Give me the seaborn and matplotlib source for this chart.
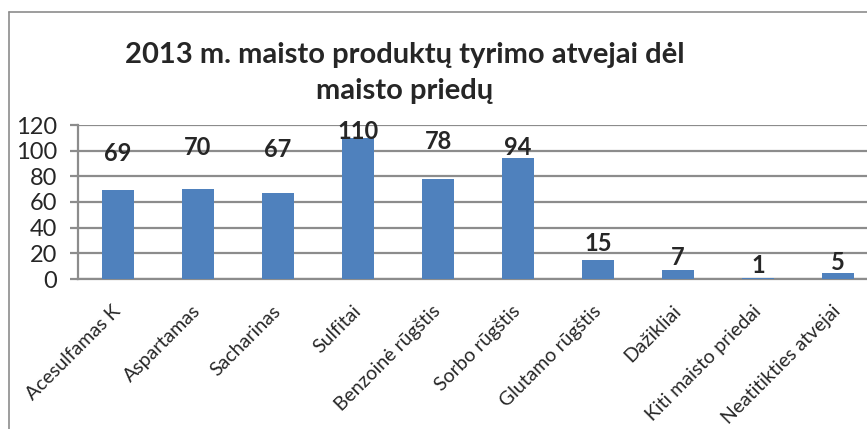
import numpy as np
import pandas as pd
import matplotlib
matplotlib.use('Agg')
import matplotlib.pyplot as plt
from matplotlib.lines import Line2D
import seaborn as sns

categories = ['Acesulfamas K', 'Aspartamas', 'Sacharinas', 'Sulfitai',
              'Benzoinė rūgštis', 'Sorbo rūgštis', 'Glutamo rūgštis',
              'Dažikliai', 'Kiti maisto priedai', 'Neatitikties atvejai']
cases = [69, 70, 67, 110, 78, 94, 15, 7, 1, 5]
y_ticks = [0, 20, 40, 60, 80, 100, 120]
title = '2013 m. maisto produktų tyrimo atvejai dėl\nmaisto priedų'

# label lift above the bar top, in pixels (Excel placed them unevenly)
label_lift = [37, 42, 44, 6, 37, 11, 16, 13, 12, 10]

sns.set_style('white')
plt.rcParams['font.family'] = ['Lato', 'DejaVu Sans']

df = pd.DataFrame({'priedas': categories, 'atvejai': cases})

W, H = 867, 429
fig = plt.figure(figsize=(W / 100, H / 100), dpi=100)
ax = fig.add_axes([78 / W, 1 - 279 / H, 800 / W, 154 / H])

sns.barplot(data=df, x='priedas', y='atvejai', color='#4F81BD', width=0.4,
            saturation=1, linewidth=0, ax=ax, zorder=3)

ax.set_xlim(-0.5, 9.5)
ax.set_ylim(0, 120)
ax.set_yticks(y_ticks)
ax.yaxis.grid(True, color='#8C8C8C', linewidth=1.6, zorder=0)
ax.set_axisbelow(True)
for s in ['top', 'right']:
    ax.spines[s].set_visible(False)
for s in ['left', 'bottom']:
    ax.spines[s].set_color('#8C8C8C')
    ax.spines[s].set_linewidth(1.6)

ax.tick_params(axis='y', length=6, width=1.6, color='#8C8C8C', pad=9,
               labelsize=17, left=True)
ax.tick_params(axis='x', length=0, pad=21, labelsize=14)
plt.setp(ax.get_xticklabels(), rotation=45, ha='right', va='center',
         rotation_mode='anchor')
ax.set_xlabel('')
ax.set_ylabel('')

for bar, v, lift in zip(ax.patches, cases, label_lift):
    ax.annotate(str(v), (bar.get_x() + bar.get_width() / 2, bar.get_height()),
                xytext=(0, lift), textcoords='offset pixels',
                ha='center', va='center', fontsize=17, fontweight='bold',
                zorder=5)

fig.text(405 / W, 1 - 73 / H, title, ha='center', va='center',
         fontsize=21, fontweight='bold', linespacing=1.5)

# chart frame (only left and top edges fall inside the crop)
fig.add_artist(Line2D([9 / W, 9 / W], [1 - 12 / H, 0], color='#8C8C8C',
                      linewidth=1.2, transform=fig.transFigure))
fig.add_artist(Line2D([9 / W, 1], [1 - 12 / H, 1 - 12 / H], color='#8C8C8C',
                      linewidth=1.2, transform=fig.transFigure))

fig.savefig('out.png', dpi=100)
